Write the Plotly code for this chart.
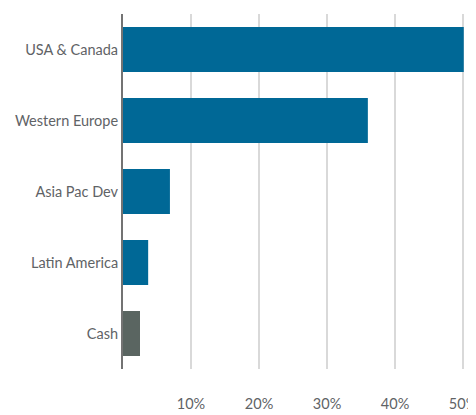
import plotly.graph_objects as go

categories = ["USA & Canada", "Western Europe", "Asia Pac Dev", "Latin America", "Cash"]
values = [50.1, 36.0, 6.9, 3.7, 2.5]
colors = ["#006896", "#006896", "#006896", "#006896", "#5A6561"]
tick_vals = [10, 20, 30, 40, 50]
tick_text = ["10%", "20%", "30%", "40%", "50%"]

fig = go.Figure(go.Bar(
    y=categories, x=values, orientation="h",
    marker=dict(color=colors, line=dict(width=0)),
    hoverinfo="skip",
))

fig.update_layout(
    width=468, height=407,
    margin=dict(l=115, r=0, t=6, b=46),
    paper_bgcolor="white", plot_bgcolor="white",
    bargap=0.366,
    showlegend=False,
    font=dict(family="Lato, Carlito, sans-serif", size=14.5, color="#5F6366"),
)
fig.update_xaxes(
    range=[0, 51.9],
    tickvals=tick_vals, ticktext=tick_text,
    showgrid=True, gridcolor="#D9D9D9", gridwidth=2,
    zeroline=False, showline=False,
    ticks="outside", ticklen=22, tickcolor="rgba(0,0,0,0)",
    ticklabeloverflow="allow",
    tickfont=dict(size=14.5, color="#5F6366"),
)
fig.update_yaxes(
    categoryorder="array", categoryarray=categories[::-1],
    showline=True, linecolor="#737373", linewidth=2,
    showgrid=False, zeroline=False,
    ticks="",
    tickfont=dict(size=14.5, color="#5F6366"),
)

fig.write_html("out.html")
